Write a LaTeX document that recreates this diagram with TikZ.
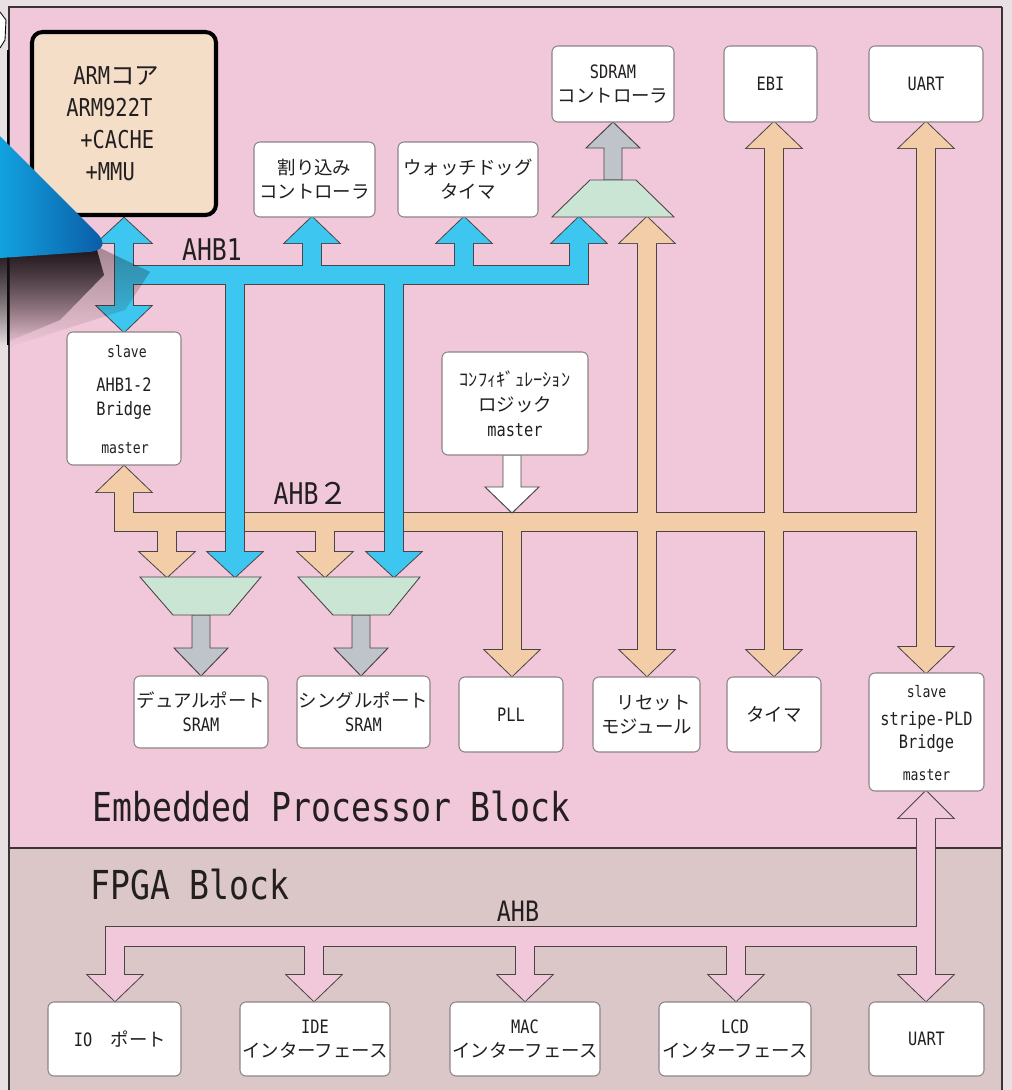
\documentclass[tikz,border=0pt]{standalone}
\usepackage{fontspec}
\setmainfont{Noto Sans CJK JP}
\newfontfamily\lat{DejaVu Sans Mono}[FakeStretch=0.83]
\usetikzlibrary{positioning,calc,fadings}

\definecolor{outerbg}{HTML}{E8E0E2}
\definecolor{epbbg}{HTML}{F1C8D9}
\definecolor{fpgabg}{HTML}{DCC7C8}
\definecolor{armfill}{HTML}{F4DEC8}
\definecolor{ahbblue}{HTML}{3DC6EF}
\definecolor{ahbtan}{HTML}{F2CDA8}
\definecolor{muxgreen}{HTML}{CBE5D5}
\definecolor{arrgray}{HTML}{BFC3CA}
\definecolor{arrline}{HTML}{4A4446}
\definecolor{boxline}{HTML}{8C8486}
\definecolor{frameline}{HTML}{3A3436}
\definecolor{ink}{HTML}{231F20}
\definecolor{curllight}{HTML}{12A2DF}
\definecolor{curldark}{HTML}{0A5AA5}
\definecolor{curlshadow}{HTML}{1A1216}

\tikzfading[name=shadowfade,top color=transparent!0,bottom color=transparent!100]

% head + shaft of a bus arrow: style, x, tip y, head base y, shaft end y
\newcommand{\headshaft}[5]{%
  \path[#1] (#2-27,#4) -- (#2,#3) -- (#2+27,#4) -- cycle;
  \path[#1] (#2-9,#4) rectangle (#2+9,#5);}
\newcommand{\blockarrow}[5]{%
  \path[#1] (#2-9,#5) -- (#2-9,#4) -- (#2-27,#4) -- (#2,#3) -- (#2+27,#4) -- (#2+9,#4) -- (#2+9,#5) -- cycle;}

\newcommand{\ahbone}[1]{%
  \path[#1] (115,266) rectangle (588,284);
  \headshaft{#1}{124}{218}{243}{306}
  \headshaft{#1}{124}{332}{306}{243}
  \headshaft{#1}{312}{217}{243}{266}
  \headshaft{#1}{464}{217}{243}{266}
  \headshaft{#1}{579}{217}{243}{284}
  \headshaft{#1}{235}{577}{552}{284}
  \headshaft{#1}{394}{577}{552}{284}}
\newcommand{\ahbtwo}[1]{%
  \path[#1] (115,513) rectangle (935,531);
  \headshaft{#1}{124}{466}{492}{531}
  \headshaft{#1}{167}{577}{552}{531}
  \headshaft{#1}{325}{577}{552}{531}
  \headshaft{#1}{512}{676}{650}{531}
  \headshaft{#1}{647}{217}{243}{650}
  \headshaft{#1}{647}{676}{650}{243}
  \headshaft{#1}{774}{122}{148}{650}
  \headshaft{#1}{774}{676}{650}{148}
  \headshaft{#1}{926}{122}{148}{647}
  \headshaft{#1}{926}{673}{647}{148}}
\newcommand{\ahbfpga}[1]{%
  \path[#1] (106,927) rectangle (935,946);
  \headshaft{#1}{926}{791}{818}{975}
  \headshaft{#1}{926}{1001}{975}{818}
  \headshaft{#1}{115}{1001}{975}{927}
  \headshaft{#1}{314}{1001}{975}{946}
  \headshaft{#1}{525}{1001}{975}{946}
  \headshaft{#1}{736}{1001}{975}{946}}

\begin{document}
\begin{tikzpicture}[x=0.02cm,y=-0.02cm,
  box/.style={draw=boxline,fill=white,rounded corners=3.4pt,line width=0.6pt,inner sep=0pt,align=center,text=ink,font=\fontsize{10.5}{13.5}\selectfont},
  boxspan/.style n args={4}{minimum width={(#3-#1)*0.02cm},minimum height={(#4-#2)*0.02cm},at={({(#1+#3)/2},{(#2+#4)/2})}},
  tag/.style={inner sep=0pt,text=ink,font=\lat\fontsize{9}{11}\selectfont},
  armtext/.style={inner sep=0pt,text=ink,align=left,font=\fontsize{14}{18.2}\selectfont},
  buslabel/.style={inner sep=0pt,text=ink,font=\fontsize{17}{20}\selectfont},
  blocklabel/.style={inner sep=0pt,text=ink,anchor=west,font=\lat\fontsize{22.7}{26}\selectfont},
  outline/.style={draw=arrline,line width=1.1pt},
  mux/.style={draw=arrline,line width=0.5pt,fill=muxgreen},
  plainarrow/.style={draw=arrline,line width=0.55pt}]
\useasboundingbox (0,0) rectangle (1012,1090);
\fill[outerbg] (0,0) rectangle (1012,1090);
\fill[epbbg] (9,7) rectangle (1002,848);
\fill[fpgabg] (9,848) rectangle (1002,1090);
\draw[frameline,line width=0.9pt] (9,1090) -- (9,7) -- (1002,7);
\draw[frameline,line width=1.7pt] (1002,7) -- (1002,1090);
\draw[frameline,line width=0.9pt] (9,848) -- (1002,848);

\ahbtwo{outline} \ahbtwo{fill=ahbtan}
\ahbone{outline} \ahbone{fill=ahbblue}
\ahbfpga{outline} \ahbfpga{fill=epbbg}

\blockarrow{plainarrow,fill=arrgray}{613}{122}{148}{180}
\blockarrow{plainarrow,fill=arrgray}{201}{676}{648}{615}
\blockarrow{plainarrow,fill=arrgray}{361}{676}{648}{615}
\blockarrow{plainarrow,fill=white}{512}{513}{487}{455}

\draw[mux] (552,217) -- (674,217) -- (636,180) -- (590,180) -- cycle;
\draw[mux] (140,577) -- (261,577) -- (229,615) -- (173,615) -- cycle;
\draw[mux] (298,577) -- (420,577) -- (389,615) -- (333,615) -- cycle;

\node[box,draw=black,line width=2.3pt,fill=armfill,rounded corners=6pt,boxspan={32}{32}{216}{215}] (arm) {};
\node[armtext,anchor=west] (armlines) at ($(arm.west)+(36,0)$) {\hspace*{4pt}{\lat ARM}コア\\{\lat ARM922T}\\\hspace*{8pt}{\lat +CACHE}\\\hspace*{11pt}{\lat +MMU}};
\node[box,boxspan={254}{142}{375}{217}] (irq) {割り込み\\コントローラ};
\node[box,boxspan={398}{142}{538}{217}] (wdt) {ウォッチドッグ\\タイマ};
\node[box,boxspan={552}{46}{674}{122}] (sdram) {{\lat SDRAM}\\コントローラ};
\node[box,boxspan={724}{46}{817}{122}] (ebi) {\lat EBI};
\node[box,boxspan={869}{46}{983}{122}] (uarttop) {\lat UART};
\node[box,boxspan={67}{332}{181}{465}] (ahbbridge) {{\lat AHB1-2}\\{\lat Bridge}};
\node[tag] (ahbslave) at ($(ahbbridge.north)+(3,20)$) {slave};
\node[tag] (ahbmaster) at ($(ahbbridge.south)+(1,-17)$) {master};
\node[box,font=\fontsize{10.5}{14.2}\selectfont,boxspan={442}{352}{588}{455}] (cfg) {ｺﾝﾌｨｷﾞｭﾚｰｼｮﾝ\\ロジック\\{\lat master}};
\node[box,boxspan={134}{676}{268}{748}] (dpsram) {デュアルポート\\{\lat SRAM}};
\node[box,boxspan={297}{676}{430}{748}] (spsram) {シングルポート\\{\lat SRAM}};
\node[box,boxspan={459}{677}{563}{752}] (pll) {\lat PLL};
\node[box,boxspan={593}{677}{700}{752}] (reset) {\hspace*{0.8em}リセット\\モジュール};
\node[box,boxspan={727}{677}{821}{752}] (timer) {タイマ};
\node[box,boxspan={869}{673}{984}{791}] (pldbridge) {{\lat stripe-PLD}\\{\lat Bridge}};
\node[tag] (pldslave) at ($(pldbridge.north)+(0,19)$) {slave};
\node[tag] (pldmaster) at ($(pldbridge.south)+(0,-16)$) {master};
\node[box,boxspan={48}{1002}{181}{1076}] (ioport) {\hspace*{0.6em}{\lat IO}　ポート};
\node[box,boxspan={240}{1002}{390}{1076}] (ide) {{\lat IDE}\\インターフェース};
\node[box,boxspan={450}{1002}{600}{1076}] (mac) {{\lat MAC}\\インターフェース};
\node[box,boxspan={659}{1002}{811}{1076}] (lcd) {{\lat LCD}\\インターフェース};
\node[box,boxspan={869}{1002}{984}{1076}] (uartbot) {\lat UART};

\node[buslabel] (ahbonelabel) at (212,250) {\lat AHB1};
\node[buslabel] (ahbtwolabel) at (311,493) {{\lat AHB}２};
\node[buslabel,font=\lat\fontsize{16}{18}\selectfont] (fpgaahblabel) at (518,911) {AHB};
\node[blocklabel] (epblabel) at (92,807) {Embedded Processor Block};
\node[blocklabel] (fpgalabel) at (90,885) {FPGA Block};

\draw[black,line width=1.7pt] (8,50) -- (8,345);
\fill[curlshadow,opacity=0.35,path fading=shadowfade] (0,250) -- (100,248) -- (150,272) -- (125,310) -- (0,350) -- cycle;
\fill[curlshadow,opacity=0.95,path fading=shadowfade] (0,256) -- (97,250) -- (104,275) -- (60,320) -- (0,345) -- cycle;
\shade[left color=curllight,right color=curldark] (0,136) -- (96,232) .. controls (107,243) and (104,251) .. (88,252) -- (0,258) -- cycle;
\draw[black,fill=white,line width=0.5pt] (0,12) -- (6,20) -- (5,40) -- (0,48);
\end{tikzpicture}
\end{document}
